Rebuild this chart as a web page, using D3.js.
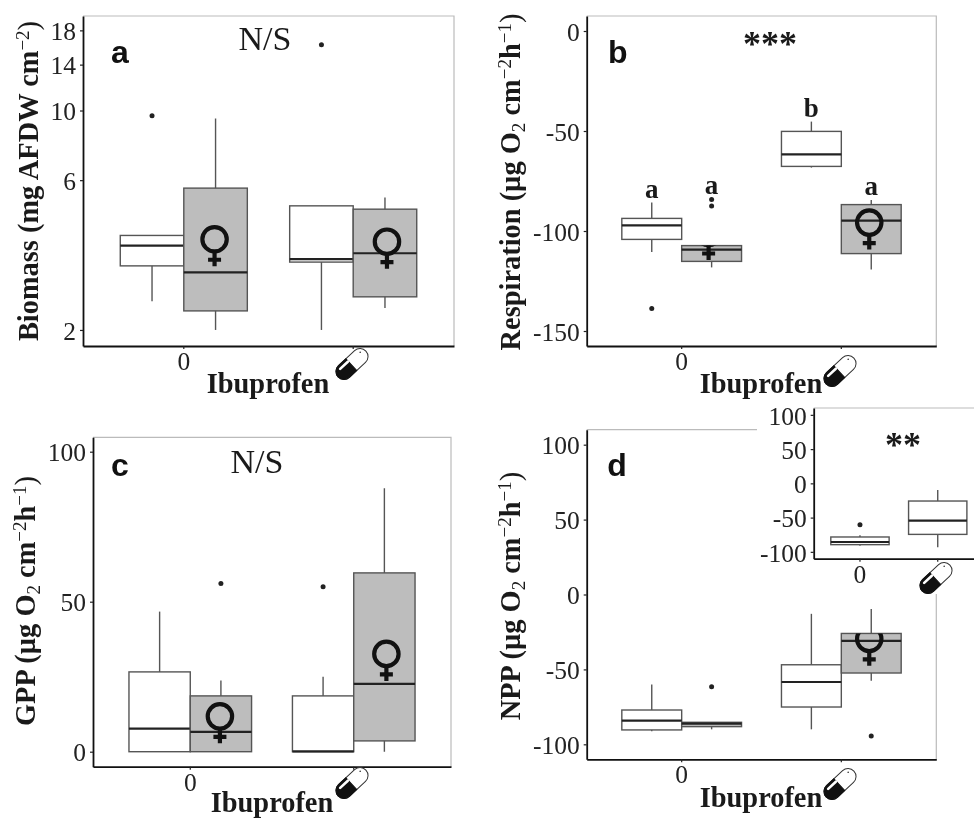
<!DOCTYPE html>
<html>
<head>
<meta charset="utf-8">
<script src="https://cdn.jsdelivr.net/npm/d3@7"></script>
<style>
    html, body { margin: 0; padding: 0; background: #fff; }
    svg { display: block; filter: blur(0.4px); }
    text { font-family: "Liberation Serif", serif; fill: #1a1a1a; }
    .tick text { font-size: 25.5px; fill: #222; }
    .panel-letter { font-family: "Liberation Sans", sans-serif; font-weight: bold; font-size: 32px; fill: #111; }
    .axis-title { font-weight: bold; font-size: 28.4px; }
    .axis-title .thin { font-weight: normal; }
    .note { font-size: 34px; }
    .stars { font-weight: bold; font-size: 36px; }
    .group-letter { font-weight: bold; font-size: 27px; }
</style>
</head>
<body>
<div id="chart"></div>
<script>
// Box rows are [whisker low, q1, median, q3, whisker high], one row per
// dose + treatment: 0 control, 0 female, ibuprofen control, ibuprofen female
var doses = ['0', 'ibu'];
var treatments = ['control', 'female'];

var biomassBoxes = [
    [2.47, 3.2, 3.71, 4.0, 4.0],
    [2.0, 2.3, 3.05, 5.66, 9.43],
    [2.0, 3.29, 3.36, 4.97, 4.97],
    [2.35, 2.55, 3.51, 4.85, 5.28]
];
var biomassOutliers = [[9.62], [], [16.2], []];
var biomassSigns = [null, 3.89, null, 3.82];

var respirationBoxes = [
    [-110.5, -104.2, -97.2, -93.7, -85.8],
    [-118.2, -115.2, -109.3, -107.3, -107.3],
    [-68.3, -67.7, -61.7, -50.2, -45.3],
    [-119.2, -111.3, -94.8, -86.8, -84.5]
];
var respirationOutliers = [[-138.7], [-84.2, -87.5], [], []];
var respirationSigns = [null, -101, null, -95.8];
var respirationLetters = ['a', 'a', 'b', 'a'];

var gppBoxes = [
    [0, 0, 7.7, 26.6, 46.7],
    [0, 0, 6.6, 18.6, 23.7],
    [0, 0, 0.1, 18.6, 25],
    [0, 3.6, 22.6, 59.6, 87.8]
];
var gppOutliers = [[], [56.1], [55], []];
var gppSigns = [null, 11.8, null, 32.6];

var nppBoxes = [
    [-91.3, -90.4, -84.2, -77.1, -60],
    [-90, -88.2, -86.2, -85.3, -85.3],
    [-90, -75.1, -58.4, -46.9, -12.9],
    [-57.6, -52.4, -30.9, -26, -9.6]
];
var nppOutliers = [[], [-61.6], [], [-94.4]];
var nppSigns = [null, null, null, -29.6];

var insetBoxes = [
    [-91, -89.5, -85.6, -78.3, -75.9],
    [-93.4, -74.5, -54.5, -25.8, -9.7]
];
var insetOutliers = [[-60.3], []];

var biomassTicks = [2, 6, 10, 14, 18];
var respirationTicks = [0, -50, -100, -150];
var gppTicks = [0, 50, 100];
var nppTicks = [-100, -50, 0, 50, 100];

var svg = d3.select('#chart').append('svg')
    .attr('width', 974)
    .attr('height', 818);

var clipCount = 0;

// Frame, axes and scales for one panel
function setupPanel(box, yScale, ticks) {
    var x = d3.scaleBand()
        .domain(doses)
        .range([box.left, box.right])
        .paddingInner(0.25)
        .paddingOuter(0.22);

    var y = yScale.range([box.bottom, box.top]);

    var g = svg.append('g');

    g.append('path')
        .attr('d', 'M' + box.left + ',' + box.top + 'H' + box.right + 'V' + box.bottom)
        .attr('fill', 'none')
        .attr('stroke', '#bbb')
        .attr('stroke-width', 1.2);

    var yAxis = g.append('g')
        .attr('transform', 'translate(' + box.left + ',0)')
        .call(d3.axisLeft(y).tickValues(ticks).tickSize(3).tickSizeOuter(0).tickFormat(d3.format('d')));

    var xAxis = g.append('g')
        .attr('transform', 'translate(0,' + box.bottom + ')')
        .call(d3.axisBottom(x).tickSize(3).tickSizeOuter(0).tickFormat(function(d) { return d === '0' ? '0' : ''; }));

    [yAxis, xAxis].forEach(function(axis) {
        axis.select('.domain').attr('stroke', '#111').attr('stroke-width', 1.8);
        axis.selectAll('.tick line').attr('stroke', '#222').attr('stroke-width', 1.2);
    });
    yAxis.selectAll('.tick text').attr('x', -7).attr('dy', '0.36em')
        .text(function(d) { return d3.format('d')(d).replace('\u2212', '-'); });
    xAxis.selectAll('.tick text').attr('y', 6).attr('dy', '0.71em');

    return {g: g, x: x, y: y};
}

function drawBox(panel, row, outliers, cx, width, fill) {
    var g = panel.g, y = panel.y;

    g.append('line')
        .attr('x1', cx).attr('x2', cx)
        .attr('y1', y(row[4])).attr('y2', y(row[0]))
        .attr('stroke', '#555').attr('stroke-width', 1.4);

    g.append('rect')
        .attr('x', cx - width / 2)
        .attr('width', width)
        .attr('y', y(row[3]))
        .attr('height', y(row[1]) - y(row[3]))
        .attr('fill', fill)
        .attr('stroke', '#555')
        .attr('stroke-width', 1.4);

    g.append('line')
        .attr('x1', cx - width / 2).attr('x2', cx + width / 2)
        .attr('y1', y(row[2])).attr('y2', y(row[2]))
        .attr('stroke', '#222').attr('stroke-width', 2.2);

    g.selectAll(null)
        .data(outliers)
        .enter().append('circle')
        .attr('cx', cx)
        .attr('cy', function(d) { return y(d); })
        .attr('r', 2.5)
        .attr('fill', '#222');
}

// Female symbol pasted over a grey box: it only shows inside that box
function drawSign(panel, row, value, cx, boxCx, width) {
    var y = panel.y;
    var id = 'sign-clip-' + (clipCount++);
    var cy = y(value);

    svg.append('clipPath').attr('id', id)
        .append('rect')
        .attr('x', boxCx - width / 2)
        .attr('width', width)
        .attr('y', y(row[3]))
        .attr('height', y(row[1]) - y(row[3]));

    var s = panel.g.append('g')
        .attr('clip-path', 'url(#' + id + ')')
        .attr('fill', 'none')
        .attr('stroke', '#111')
        .attr('stroke-width', 4.2);

    s.append('circle').attr('cx', cx).attr('cy', cy).attr('r', 12.2);
    s.append('line').attr('x1', cx).attr('x2', cx).attr('y1', cy + 12).attr('y2', cy + 27);
    s.append('line').attr('x1', cx - 6.5).attr('x2', cx + 6.5).attr('y1', cy + 20.5).attr('y2', cy + 20.5);
}

function drawBoxes(panel, boxes, outliers, signs, nudges) {
    var inner = d3.scaleBand()
        .domain(treatments)
        .range([0, panel.x.bandwidth()]);

    boxes.forEach(function(row, i) {
        var dose = doses[Math.floor(i / 2)];
        var treatment = treatments[i % 2];
        var cx = panel.x(dose) + inner(treatment) + inner.bandwidth() / 2;
        drawBox(panel, row, outliers[i], cx, inner.bandwidth(), treatment === 'female' ? '#bdbdbd' : '#fff');
        if (signs[i] !== null) {
            drawSign(panel, row, signs[i], cx + nudges[i], cx, inner.bandwidth());
        }
    });
}

function drawPill(cx, cy) {
    var pill = svg.append('g')
        .attr('transform', 'translate(' + cx + ',' + cy + ') rotate(-43)');
    pill.append('rect')
        .attr('x', -19).attr('y', -8).attr('width', 38).attr('height', 16).attr('rx', 8)
        .attr('fill', '#fff').attr('stroke', '#333').attr('stroke-width', 1);
    pill.append('path')
        .attr('d', 'M-1,-8H-11A8,8 0 0 0 -11,8H-1Z')
        .attr('fill', '#111').attr('stroke', '#111').attr('stroke-width', 1);
    // highlight along the upper edge of the dark half
    pill.append('path')
        .attr('d', 'M-12,-4.5H-1.5')
        .attr('stroke', '#fff').attr('stroke-width', 2.6).attr('stroke-linecap', 'round');
    pill.append('circle').attr('cx', 14).attr('cy', -3).attr('r', 0.8).attr('fill', '#333');
}

function xTitle(cx, baseline) {
    svg.append('text').attr('class', 'axis-title')
        .attr('x', cx).attr('y', baseline)
        .attr('text-anchor', 'middle')
        .text('Ibuprofen');
}

// Rotated y title with its sub and superscripts
function yTitle(baseline, cy, parts) {
    var t = svg.append('text').attr('class', 'axis-title')
        .attr('text-anchor', 'middle')
        .attr('transform', 'translate(' + baseline + ',' + cy + ') rotate(-90)');
    parts.forEach(function(p) {
        var span = t.append('tspan').text(p.text);
        if (p.thin) span.attr('class', 'thin');
        if (p.shift) span.attr('baseline-shift', p.shift).style('font-size', '19px');
    });
}

function label(cx, baseline, cls, text) {
    svg.append('text').attr('class', cls)
        .attr('x', cx).attr('y', baseline)
        .attr('text-anchor', 'middle')
        .text(text);
}

var o2Parts = [
    {text: '(\u00b5g O'},
    {text: '2', thin: true, shift: '-5px'},
    {text: ' cm'},
    {text: '\u22122', thin: true, shift: '9px'},
    {text: 'h'},
    {text: '\u22121', thin: true, shift: '9px'},
    {text: ')', thin: true}
];

/* Panel a */
var panelA = setupPanel({left: 83, right: 454, top: 16, bottom: 346},
    d3.scaleLog().domain([1.778, 20]), biomassTicks);
drawBoxes(panelA, biomassBoxes, biomassOutliers, biomassSigns, [0, -1, 0, 2]);
label(120, 63, 'panel-letter', 'a');
label(265, 50, 'note', 'N/S');
xTitle(268, 393);
drawPill(352, 364);
yTitle(38, 181, [
    {text: 'Biomass (mg AFDW cm'},
    {text: '\u22122', thin: true, shift: '9px'},
    {text: ')', thin: true}
]);

/* Panel b */
var panelB = setupPanel({left: 586.7, right: 936.3, top: 16, bottom: 346},
    d3.scaleLinear().domain([-157.5, 7.5]), respirationTicks);
drawBoxes(panelB, respirationBoxes, respirationOutliers, respirationSigns, [0, -3, 0, -2]);
label(617.7, 63, 'panel-letter', 'b');
label(770, 56, 'stars', '***');
xTitle(761, 393);
drawPill(840, 371);
yTitle(520, 182, [{text: 'Respiration '}].concat(o2Parts));
(function() {
    var inner = d3.scaleBand().domain(treatments).range([0, panelB.x.bandwidth()]);
    respirationLetters.forEach(function(letter, i) {
        var cx = panelB.x(doses[Math.floor(i / 2)]) + inner(treatments[i % 2]) + inner.bandwidth() / 2;
        var top = d3.max(respirationBoxes[i].concat(respirationOutliers[i]));
        label(cx, panelB.y(top) - 5, 'group-letter', letter);
    });
})();

/* Panel c */
var panelC = setupPanel({left: 93, right: 451, top: 437.3, bottom: 766.7},
    d3.scaleLinear().domain([-5, 104.8]), gppTicks);
drawBoxes(panelC, gppBoxes, gppOutliers, gppSigns, [0, -1, 0, 2]);
label(120, 476, 'panel-letter', 'c');
label(257, 473, 'note', 'N/S');
xTitle(272, 812);
drawPill(352, 783);
yTitle(35, 601, [{text: 'GPP '}].concat(o2Parts));

/* Panel d */
var panelD = setupPanel({left: 586.7, right: 936.3, top: 429.7, bottom: 759.3},
    d3.scaleLinear().domain([-110, 110]), nppTicks);
drawBoxes(panelD, nppBoxes, nppOutliers, nppSigns, [0, 0, 0, -2]);
label(617, 476, 'panel-letter', 'd');
xTitle(761, 807);
drawPill(840, 784);
yTitle(520, 596, [{text: 'NPP '}].concat(o2Parts));

/* Inset over panel d */
svg.append('rect')
    .attr('x', 757).attr('y', 405)
    .attr('width', 217).attr('height', 189)
    .attr('fill', '#fff');
var panelInset = setupPanel({left: 813.7, right: 984, top: 408, bottom: 558.7},
    d3.scaleLinear().domain([-110, 110]), nppTicks);
(function() {
    insetBoxes.forEach(function(row, i) {
        var cx = panelInset.x(doses[i]) + panelInset.x.bandwidth() / 2;
        drawBox(panelInset, row, insetOutliers[i], cx, panelInset.x.bandwidth(), '#fff');
    });
})();
label(903, 457, 'stars', '**');
drawPill(936, 578);
</script>
</body>
</html>
